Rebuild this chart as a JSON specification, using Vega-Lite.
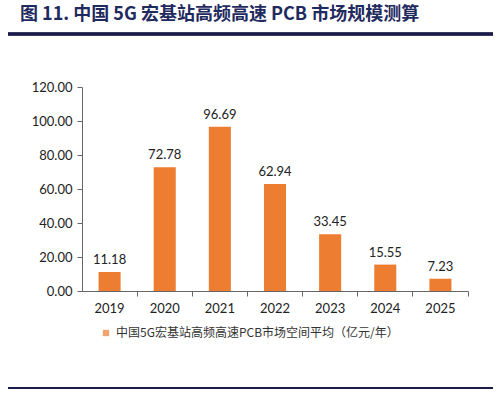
{
  "$schema": "https://vega.github.io/schema/vega-lite/v6.json",
  "width": 485,
  "height": 204,
  "autosize": {"type": "none"},
  "padding": {"left": 8, "top": 87, "right": 7, "bottom": 103},
  "background": "white",
  "config": {"view": {"stroke": null}},
  "title": {
    "text": "图 11. 中国 5G 宏基站高频高速 PCB 市场规模测算",
    "anchor": "start",
    "frame": "group",
    "dx": 12,
    "offset": 9,
    "font": "Noto Sans CJK SC",
    "fontSize": 18,
    "fontWeight": "bold",
    "color": "#1F2A5E"
  },
  "data": {
    "values": [
      {"year": "2019", "value": 11.18, "series": "中国5G宏基站高频高速PCB市场空间平均（亿元/年）"},
      {"year": "2020", "value": 72.78, "series": "中国5G宏基站高频高速PCB市场空间平均（亿元/年）"},
      {"year": "2021", "value": 96.69, "series": "中国5G宏基站高频高速PCB市场空间平均（亿元/年）"},
      {"year": "2022", "value": 62.94, "series": "中国5G宏基站高频高速PCB市场空间平均（亿元/年）"},
      {"year": "2023", "value": 33.45, "series": "中国5G宏基站高频高速PCB市场空间平均（亿元/年）"},
      {"year": "2024", "value": 15.55, "series": "中国5G宏基站高频高速PCB市场空间平均（亿元/年）"},
      {"year": "2025", "value": 7.23, "series": "中国5G宏基站高频高速PCB市场空间平均（亿元/年）"}
    ]
  },
  "layer": [
    {
      "mark": {"type": "bar", "width": {"band": 0.4}},
      "encoding": {
        "x": {
          "field": "year", "type": "nominal",
          "scale": {"range": [74, 460], "paddingInner": 0, "paddingOuter": 0},
          "axis": {
            "title": null, "labelAngle": 0, "bandPosition": 1,
            "labelFont": "Lato", "labelFontSize": 13, "labelColor": "#222",
            "domainColor": "#666", "tickColor": "#666", "tickSize": 5, "labelPadding": 6
          }
        },
        "y": {
          "field": "value", "type": "quantitative",
          "scale": {"domain": [0, 120]},
          "axis": {
            "title": null, "values": [0, 20, 40, 60, 80, 100, 120], "tickCount": 7, "format": ".2f",
            "offset": -74, "grid": false, "labelOverlap": false,
            "labelFont": "Lato", "labelFontSize": 13, "labelColor": "#222",
            "domainColor": "#666", "tickColor": "#666", "tickSize": 5, "labelPadding": 5
          }
        },
        "color": {
          "field": "series", "type": "nominal",
          "scale": {"range": ["#ED7D31"]},
          "legend": {
            "title": null, "orient": "none", "legendX": 92, "legendY": 240,
            "symbolType": "square", "symbolSize": 40, "symbolOpacity": 0.7,
            "labelLimit": 0, "labelOffset": 4,
            "labelFont": "Noto Sans CJK SC", "labelFontSize": 12, "labelColor": "#333"
          }
        }
      }
    },
    {
      "mark": {"type": "text", "baseline": "bottom", "dy": -5, "font": "Lato", "fontSize": 13, "color": "#222"},
      "encoding": {
        "x": {"field": "year", "type": "nominal"},
        "y": {
          "field": "value", "type": "quantitative",
          "axis": {
            "title": null, "values": [0, 20, 40, 60, 80, 100, 120], "tickCount": 7, "format": ".2f",
            "offset": -74, "grid": false, "labelOverlap": false,
            "labelFont": "Lato", "labelFontSize": 13, "labelColor": "#222",
            "domainColor": "#666", "tickColor": "#666", "tickSize": 5, "labelPadding": 5
          }
        },
        "text": {"field": "value", "type": "quantitative", "format": ".2f"}
      }
    },
    {
      "mark": {"type": "rule", "color": "#1C1C4A", "strokeWidth": 2.5},
      "encoding": {
        "y": {
          "datum": 151.2,
          "axis": {
            "title": null, "values": [0, 20, 40, 60, 80, 100, 120], "tickCount": 7, "format": ".2f",
            "offset": -74, "grid": false, "labelOverlap": false,
            "labelFont": "Lato", "labelFontSize": 13, "labelColor": "#222",
            "domainColor": "#666", "tickColor": "#666", "tickSize": 5, "labelPadding": 5
          }
        }
      }
    },
    {
      "mark": {"type": "rule", "color": "#1C1C4A", "strokeWidth": 2},
      "encoding": {
        "y": {
          "datum": -57.1,
          "axis": {
            "title": null, "values": [0, 20, 40, 60, 80, 100, 120], "tickCount": 7, "format": ".2f",
            "offset": -74, "grid": false, "labelOverlap": false,
            "labelFont": "Lato", "labelFontSize": 13, "labelColor": "#222",
            "domainColor": "#666", "tickColor": "#666", "tickSize": 5, "labelPadding": 5
          }
        }
      }
    }
  ]
}
